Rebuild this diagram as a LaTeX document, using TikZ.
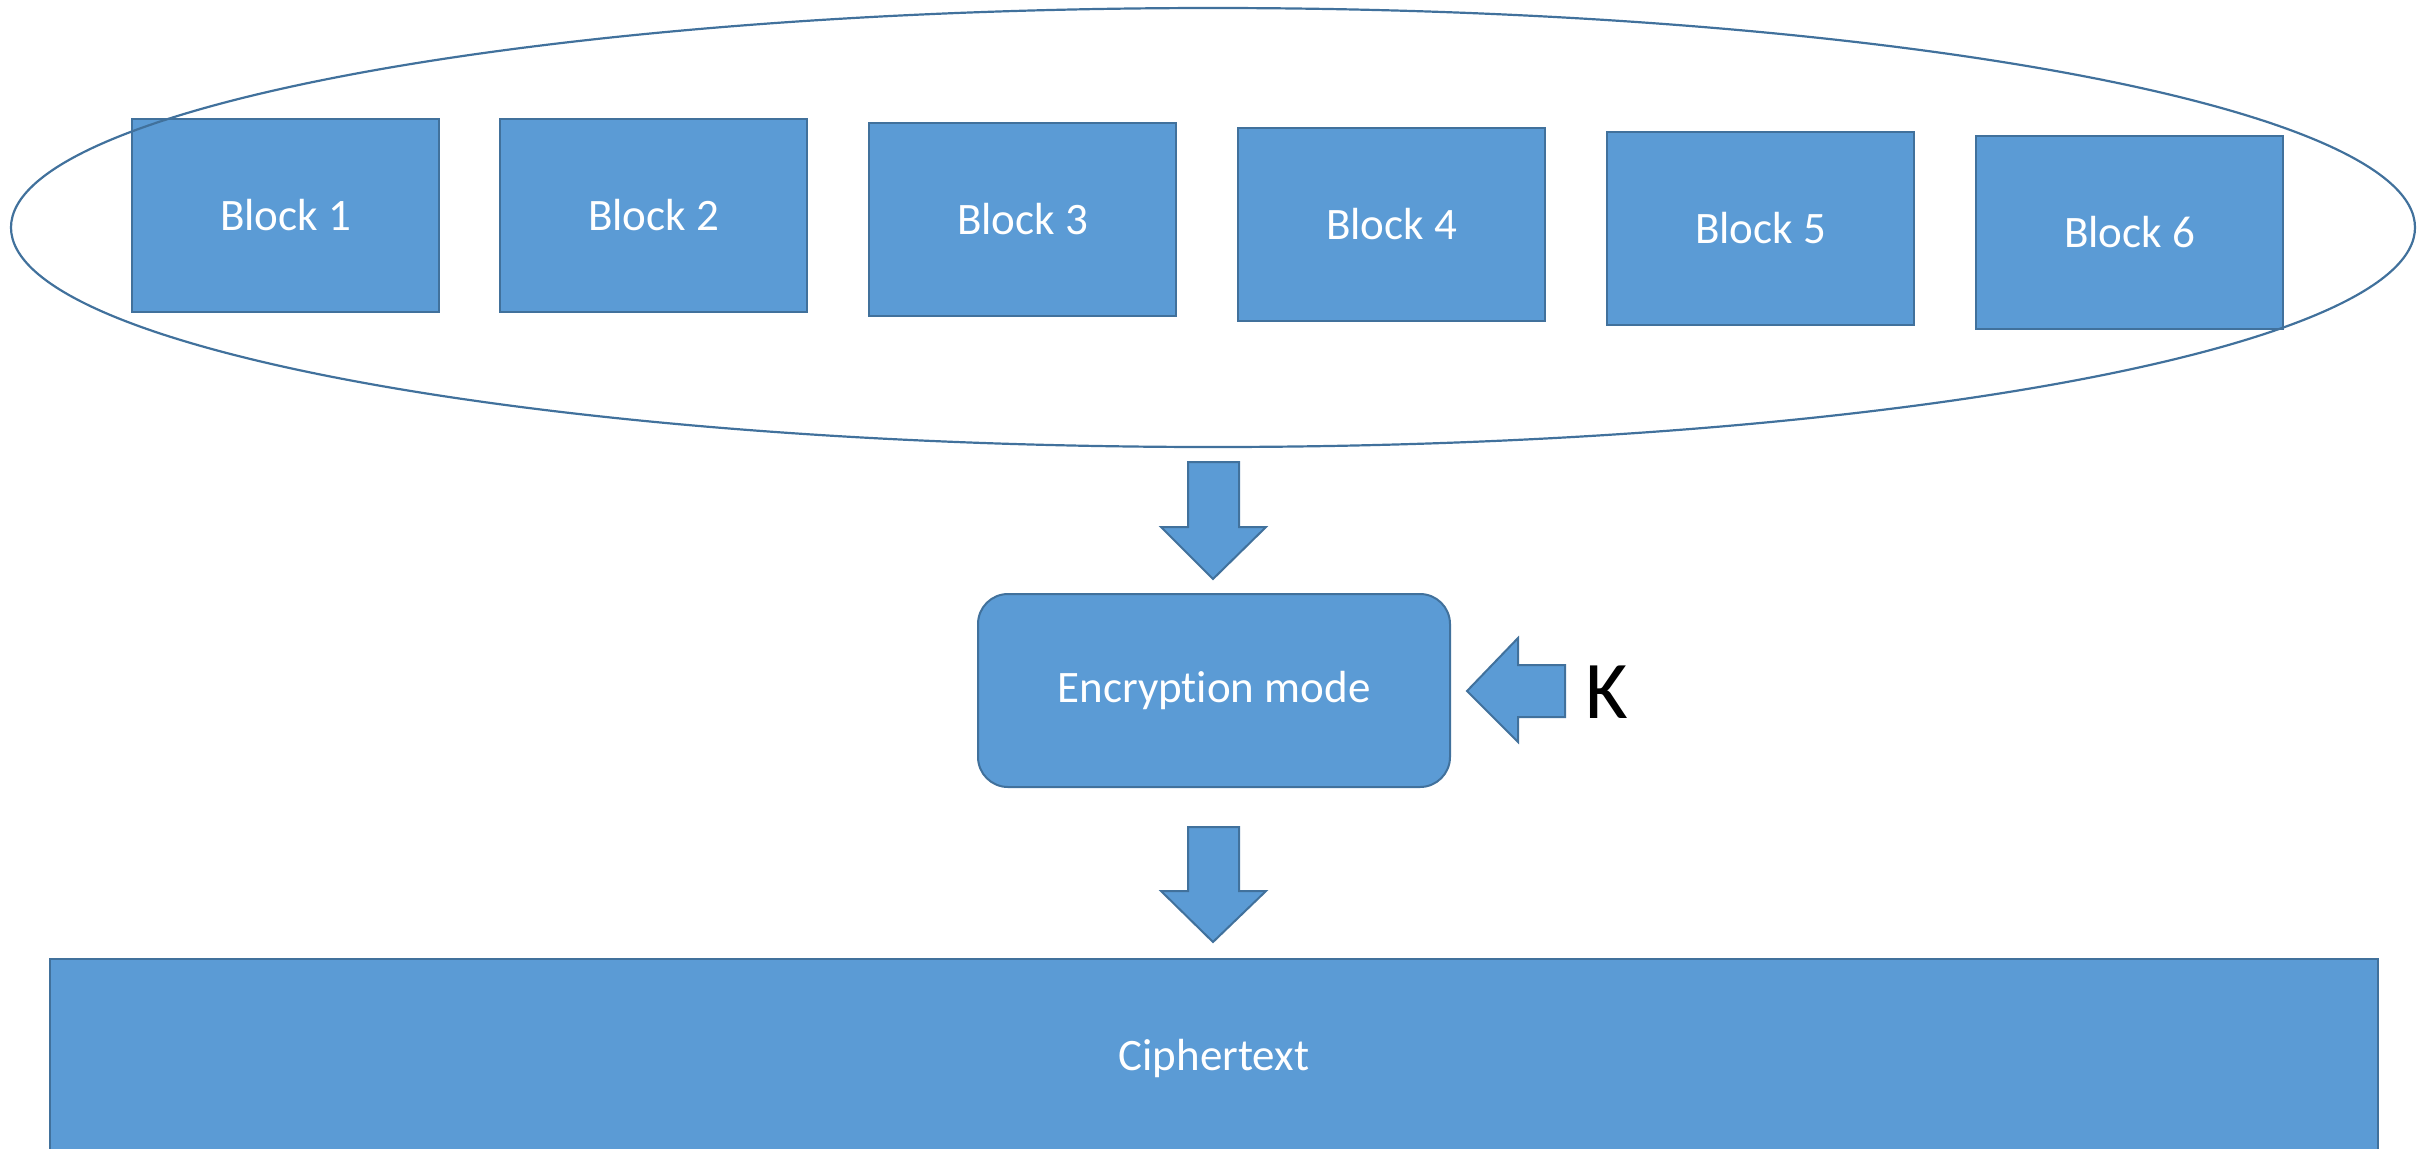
\documentclass[tikz,border=0pt]{standalone}
\usepackage{fontspec}
\setmainfont[Ligatures={NoCommon,NoRare},RawFeature={-liga;-dlig}]{Carlito}
\usetikzlibrary{shapes.geometric}
\definecolor{boxfill}{HTML}{5B9BD5}
\definecolor{boxline}{HTML}{41719C}
\begin{document}
\begin{tikzpicture}[x=0.5pt,y=-0.5pt,
  blockbox/.style={draw=boxline,fill=boxfill,line width=1pt,text=white,
    minimum width=153.5pt,minimum height=96.5pt,inner sep=0pt,
    font=\fontsize{22.5pt}{27pt}\selectfont},
  modebox/.style={blockbox,rounded corners=15pt,minimum width=236pt},
  cipherbox/.style={blockbox,minimum width=1164pt,minimum height=99pt},
  blockarrow/.style={draw=boxline,fill=boxfill,line width=1pt},
  ring/.style={draw=boxline,line width=1.1pt,ellipse,inner sep=0pt,
    minimum width=1202pt,minimum height=219.5pt}]
\useasboundingbox (0,0) rectangle (2432,1148);
\node[blockbox] (b1) at (285.5,215.5) {Block 1};
\node[blockbox] (b2) at (653.5,215.5) {Block 2};
\node[blockbox] (b3) at (1022.5,219.5) {Block 3};
\node[blockbox] (b4) at (1391.5,224) {Block 4};
\node[blockbox] (b5) at (1760.5,228) {Block 5};
\node[blockbox] (b6) at (2129.5,232.5) {Block 6};
\node[ring] (plain) at (1213,227.5) {};
\node[modebox] (mode) at (1214,690.5) {Encryption mode};
\node[cipherbox] (cipher) at (1214,1058) {Ciphertext};
\node[anchor=base west,inner sep=0pt,font=\fontsize{41pt}{48pt}\selectfont] (key) at (1585,718) {K};
% block arrows
\draw[blockarrow] (1188,462) -- (1239,462) -- (1239,527) -- (1266,527) -- (1213,579) -- (1161,527) -- (1188,527) -- cycle;
\draw[blockarrow] (1188,827) -- (1239,827) -- (1239,891) -- (1266,891) -- (1213,942) -- (1161,891) -- (1188,891) -- cycle;
\draw[blockarrow] (1565,665) -- (1565,717) -- (1518,717) -- (1518,742) -- (1467,691) -- (1518,638) -- (1518,665) -- cycle;
\end{tikzpicture}
\end{document}
